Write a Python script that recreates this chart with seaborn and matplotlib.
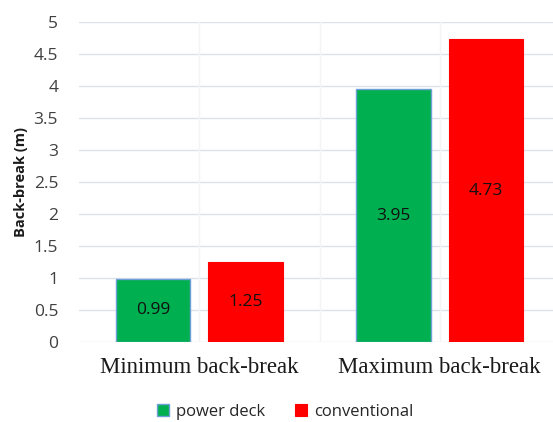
import matplotlib
matplotlib.use("Agg")
import matplotlib.pyplot as plt
from matplotlib.patches import Patch
import seaborn as sns
import pandas as pd

# Back-break measurements per blasting method
categories = ["Minimum back-break", "Maximum back-break"]
power_deck = [0.99, 3.95]
conventional = [1.25, 4.73]
series_names = ["power deck", "conventional"]
y_ticks = [0, 0.5, 1, 1.5, 2, 2.5, 3, 3.5, 4, 4.5, 5]
y_tick_labels = ["0", "0.5", "1", "1.5", "2", "2.5", "3", "3.5", "4", "4.5", "5"]

df = pd.DataFrame({
    "category": categories * 2,
    "method": [series_names[0]] * len(categories) + [series_names[1]] * len(categories),
    "value": power_deck + conventional,
})

sns.set_style("white")
plt.rcParams["font.family"] = ["Open Sans", "DejaVu Sans"]

fig = plt.figure(figsize=(5.53, 4.22), dpi=100)
W, H = 553, 422
left, right, top, bottom = 79, 560, 22, 342
ax = fig.add_axes([left / W, 1 - bottom / H, (right - left) / W, (bottom - top) / H])

colors = {"power deck": "#00b050", "conventional": "#ff0000"}
sns.barplot(data=df, x="category", y="value", hue="method", palette=colors,
            order=categories, hue_order=series_names, width=0.768, gap=0.19,
            saturation=1, ax=ax, legend=False, zorder=3)

# outline colours: bluish edge on green bars, red edge on red bars
for bar in ax.containers[0]:
    bar.set_edgecolor("#6e9fd6")
    bar.set_linewidth(1.0)
for bar in ax.containers[1]:
    bar.set_edgecolor("#ff0000")
    bar.set_linewidth(0.8)

# value labels centred inside bars
for cont in ax.containers:
    ax.bar_label(cont, labels=[f"{b.get_height():.2f}" for b in cont],
                 label_type="center", fontsize=12.5, color="#111111")

ax.set_xlim(-0.5, 1.5)
ax.set_ylim(0, 5)
ax.set_yticks(y_ticks)
ax.set_yticklabels(y_tick_labels)

# horizontal major grid and faint vertical grid
for y in y_ticks:
    ax.axhline(y, color="#dde2ea", lw=1.0, zorder=1)
for x in [0, 0.5, 1.0]:
    ax.axvline(x, color="#f3f4f6", lw=1.0, zorder=1)

for s in ax.spines.values():
    s.set_visible(False)

ax.tick_params(axis="y", length=0, pad=15, labelsize=12.5, labelcolor="#404040")
ax.tick_params(axis="x", length=0, pad=11)
for lab in ax.get_xticklabels():
    lab.set_family(["Liberation Serif", "DejaVu Serif"])
    lab.set_fontsize(16.5)
    lab.set_color("#1a1a1a")

ax.set_xlabel("")
ax.set_ylabel("Back-break (m)", fontsize=10.5, fontweight="bold",
              color="#1a1a1a", labelpad=4)

handles = [Patch(facecolor="#00b050", edgecolor="#6e9fd6", lw=1.0, label="power deck"),
           Patch(facecolor="#ff0000", edgecolor="#ff0000", lw=0.8, label="conventional")]
fig.legend(handles=handles, loc="center", bbox_to_anchor=(285 / W, 1 - 412 / H),
           ncol=2, frameon=False, handlelength=0.75, handleheight=0.75,
           handletextpad=0.4, columnspacing=1.8, prop={"size": 12})

fig.savefig("out.png", dpi=100)
